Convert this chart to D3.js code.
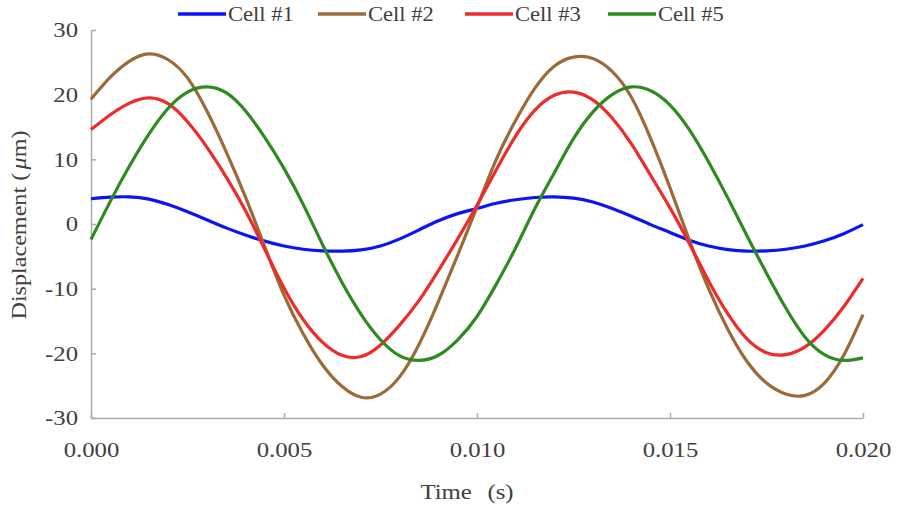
<!DOCTYPE html>
<html>
<head>
<meta charset="utf-8">
<script src="https://cdn.jsdelivr.net/npm/d3@7"></script>
<style>
  html, body { margin: 0; padding: 0; background: #fff; }
  svg { display: block; }
</style>
</head>
<body>
<svg id="chart" width="897" height="512"></svg>
<script>
// ---- data ----
const times = d3.range(0, 41).map(i => +(i * 0.0005).toFixed(4));
const seriesNames = ["Cell #1", "Cell #2", "Cell #3", "Cell #5"];
const cell1 = [3.9, 4.15, 4.2, 3.85, 3.0, 1.9, 0.65, -0.6, -1.7, -2.65, -3.4, -3.9, -4.15, -4.2, -4.0, -3.4, -2.3, -0.9, 0.5, 1.6,
               2.4, 3.2, 3.75, 4.1, 4.2, 4.0, 3.4, 2.4, 1.2, -0.1, -1.3, -2.5, -3.4, -3.95, -4.2, -4.15, -3.9, -3.4, -2.6, -1.5, -0.1];
const cell2 = [19.3, 22.7, 25.2, 26.3, 25.4, 22.6, 17.5, 11.2, 4.2, -3.5, -11.0, -17.0, -21.8, -25.1, -26.8, -26.3, -23.6, -18.6, -12.0, -4.8,
               2.6, 10.0, 16.0, 21.0, 24.4, 25.8, 25.6, 23.6, 19.6, 13.2, 5.6, -2.5, -10.0, -16.3, -21.3, -24.6, -26.3, -26.5, -24.6, -20.3, -14.0];
const cell3 = [14.6, 16.9, 18.7, 19.5, 18.6, 15.8, 11.9, 7.3, 2.1, -3.9, -9.9, -14.8, -18.3, -20.3, -20.5, -18.7, -15.6, -11.8, -7.2, -2.3,
               2.9, 8.4, 13.6, 17.6, 19.9, 20.4, 19.2, 16.4, 12.4, 7.5, 2.5, -3.0, -8.8, -13.9, -17.8, -19.9, -20.2, -19.0, -16.4, -12.8, -8.4];
const cell5 = [-2.4, 3.5, 9.0, 13.9, 17.9, 20.4, 21.2, 20.3, 17.5, 13.4, 8.6, 3.0, -3.2, -9.0, -14.0, -17.9, -20.4, -21.1, -20.3, -17.9,
               -14.3, -9.3, -3.7, 2.4, 7.9, 13.2, 17.3, 20.0, 21.2, 20.6, 18.4, 14.6, 9.6, 4.0, -1.9, -7.6, -13.0, -17.5, -20.2, -21.1, -20.7];
const seriesValues = [cell1, cell2, cell3, cell5];
const seriesColors = ["#0a14f5", "#9c6a38", "#ee2b2b", "#2f8a22"];
const xTicks = [0, 0.005, 0.010, 0.015, 0.020];
const yTicks = [-30, -20, -10, 0, 10, 20, 30];

// ---- layout ----
const FONT = '"Liberation Serif", "Times New Roman", serif';
const STRETCH = 1.18;
const svg = d3.select("#chart");
const x = d3.scaleLinear().domain([0, 0.02]).range([91, 863]);
const y = d3.scaleLinear().domain([-30, 30]).range([418, 30]);
const axisColor = "#ababab";

// x axis (ticks pointing up, inside the plot)
const xAxis = svg.append("g").attr("transform", `translate(0,${y(-30)})`)
  .call(d3.axisBottom(x).tickValues(xTicks).tickSizeInner(-5).tickSizeOuter(0).tickPadding(24)
        .tickFormat(d3.format(".3f")));
xAxis.attr("font-family", FONT);
xAxis.select(".domain").attr("stroke", axisColor).attr("stroke-width", 1.5);
xAxis.selectAll(".tick line").attr("stroke", axisColor).attr("stroke-width", 1.5);
xAxis.selectAll(".tick text").attr("font-size", 21).attr("fill", "#404040")
  .attr("transform", `scale(${STRETCH},1)`);

// y axis (ticks pointing right, inside the plot)
const yAxis = svg.append("g").attr("transform", `translate(${x(0)},0)`)
  .call(d3.axisLeft(y).tickValues(yTicks).tickSizeInner(-5).tickSizeOuter(0).tickPadding(11)
        .tickFormat(d => String(d)));
yAxis.attr("font-family", FONT);
yAxis.select(".domain").attr("stroke", axisColor).attr("stroke-width", 1.5);
yAxis.selectAll(".tick line").attr("stroke", axisColor).attr("stroke-width", 1.5);
yAxis.selectAll(".tick text").attr("font-size", 21).attr("fill", "#404040")
  .attr("transform", `scale(${STRETCH},1)`);

// lines
const line = d3.line().x((d, i) => x(times[i])).y(d => y(d)).curve(d3.curveNatural);
svg.append("g").selectAll("path").data(seriesValues).join("path")
  .attr("d", d => line(d))
  .attr("fill", "none")
  .attr("stroke", (d, i) => seriesColors[i])
  .attr("stroke-width", 3.2)
  .attr("stroke-linejoin", "round");

// legend
const legendX = [178, 318, 465, 608];
const lg = svg.append("g");
seriesNames.forEach((n, i) => {
  lg.append("line").attr("x1", legendX[i]).attr("x2", legendX[i] + 48)
    .attr("y1", 14).attr("y2", 14).attr("stroke", seriesColors[i]).attr("stroke-width", 3.5);
  lg.append("text").attr("transform", `translate(${legendX[i] + 50},21) scale(1.13,1)`)
    .attr("font-family", FONT).attr("font-size", 20).attr("fill", "#404040").text(n);
});

// axis titles
svg.append("text").attr("transform", "translate(467,499) scale(1.18,1)").attr("text-anchor", "middle")
  .attr("font-family", FONT).attr("fill", "#404040")
  .attr("font-size", 21).attr("word-spacing", 8).text("Time (s)");
const yt = svg.append("text").attr("transform", "translate(26,225) rotate(-90) scale(1.15,1)")
  .attr("text-anchor", "middle").attr("font-size", 21).attr("font-family", FONT).attr("fill", "#404040");
yt.append("tspan").text("Displacement (");
yt.append("tspan").attr("font-style", "italic").attr("dx", 3).text("μ");
yt.append("tspan").text("m)");
</script>
</body>
</html>
